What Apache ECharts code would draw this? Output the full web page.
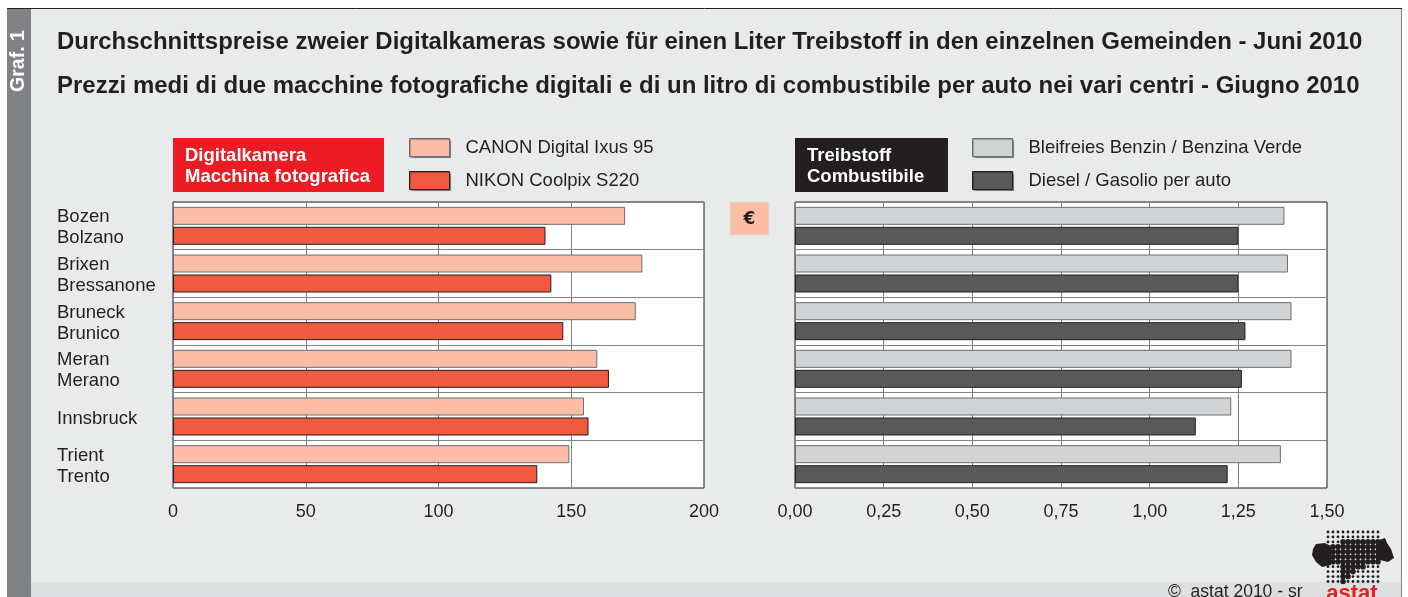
<!DOCTYPE html>
<html>
<head>
<meta charset="utf-8">
<title>Graf. 1</title>
<style>
  html, body { margin: 0; padding: 0; background: #fff; }
  #main { width: 1408px; height: 597px; }
</style>
<script src="https://cdn.jsdelivr.net/npm/echarts@6/dist/echarts.min.js"></script>
</head>
<body>
<div id="main"></div>
<script>
var cities = ['Bozen\nBolzano', 'Brixen\nBressanone', 'Bruneck\nBrunico', 'Meran\nMerano', 'Innsbruck', 'Trient\nTrento'];
var canon = [170.3, 176.8, 174.3, 159.8, 154.8, 149.3];
var nikon = [140.3, 142.5, 147, 164.2, 156.5, 137.2];
var benzin = [1.38, 1.39, 1.40, 1.40, 1.23, 1.37];
var diesel = [1.25, 1.25, 1.27, 1.26, 1.13, 1.22];

var font = '"Liberation Sans", Arial, sans-serif';
var textColor = '#231f20';

// astat logo: dot raster, dots get bigger inside the map shape
function logoDots() {
  // first/last big column per raster row, -1 = no big dots
  var bigFrom = [-1, -1, 3, 1, 0, 0, 0, 3, 3, 3, 3];
  var bigTo = [-1, -1, 10, 10, 10, 10, 10, 7, 5, 4, 3];
  var dots = [];
  for (var i = 0; i < 11; i++) {
    for (var j = 0; j < 11; j++) {
      var big = bigFrom[j] >= 0 && i >= bigFrom[j] && i <= bigTo[j];
      dots.push({
        type: 'circle', z: -5, silent: true,
        shape: { cx: 1328 + i * 5, cy: 532 + j * 4.95, r: big ? 2.8 : 1.4 },
        style: { fill: '#231f20' }
      });
    }
  }
  return dots;
}

function makeBar(name, values, color, border, xIdx) {
  return {
    name: name,
    type: 'bar',
    xAxisIndex: xIdx,
    yAxisIndex: xIdx,
    data: values,
    barWidth: 18,
    barGap: '11%',
    itemStyle: { color: color, borderColor: border, borderWidth: 1 },
    silent: true
  };
}

function makeLegend(names, left) {
  return {
    left: left, top: 138, orient: 'vertical', padding: 0,
    itemWidth: 40, itemHeight: 18, itemGap: 14, icon: 'rect',
    data: names,
    selectedMode: false,
    itemStyle: { borderWidth: 1, shadowColor: 'rgba(0,0,0,0.3)', shadowBlur: 1, shadowOffsetX: 1, shadowOffsetY: 1 },
    textStyle: { fontFamily: font, fontSize: 18.5, color: textColor, padding: [0, 0, 0, 11] }
  };
}

function makeX(idx, max, interval, fmt) {
  return {
    type: 'value', gridIndex: idx, min: 0, max: max, interval: interval, position: 'bottom',
    axisLine: { show: false }, axisTick: { show: false },
    axisLabel: { fontFamily: font, fontSize: 18, color: textColor, margin: 15, formatter: fmt, hideOverlap: false },
    splitLine: { show: true, lineStyle: { color: '#808285', width: 1 } }
  };
}

function makeY(idx, showLabel) {
  return {
    type: 'category', gridIndex: idx, data: cities, inverse: true,
    axisLine: { show: false }, axisTick: { show: false },
    axisLabel: {
      show: showLabel, align: 'left', margin: 116, interval: 0,
      // small empty first line pushes the names down a bit
      formatter: function (v) {
        return '{gap| }\n' + v.split('\n').map(function (s) { return '{n|' + s + '}'; }).join('\n');
      },
      rich: {
        gap: { fontSize: 1, lineHeight: 4, height: 4 },
        n: { fontFamily: font, fontSize: 18.5, color: textColor, lineHeight: 21 }
      }
    },
    splitLine: { show: true, interval: 0, lineStyle: { color: '#808285', width: 1 } }
  };
}

var chart = echarts.init(document.getElementById('main'), null, { renderer: 'canvas' });
chart.setOption({
  animation: false,
  backgroundColor: '#ffffff',
  title: [
    {
      text: 'Durchschnittspreise zweier Digitalkameras sowie für einen Liter Treibstoff in den einzelnen Gemeinden - Juni 2010',
      left: 57, top: 30, padding: 0,
      textStyle: { fontFamily: font, fontSize: 23.98, fontWeight: 'bold', color: textColor }
    },
    {
      text: 'Prezzi medi di due macchine fotografiche digitali e di un litro di combustibile per auto nei vari centri - Giugno 2010',
      left: 57, top: 74, padding: 0,
      textStyle: { fontFamily: font, fontSize: 23.98, fontWeight: 'bold', color: textColor }
    }
  ],
  legend: [
    makeLegend(['CANON Digital Ixus 95', 'NIKON Coolpix S220'], 409),
    makeLegend(['Bleifreies Benzin / Benzina Verde', 'Diesel / Gasolio per auto'], 972)
  ],
  grid: [
    { left: 173, top: 202, width: 531, height: 286, show: true, backgroundColor: '#ffffff', borderColor: '#231f20', borderWidth: 1 },
    { left: 795, top: 202, width: 532, height: 286, show: true, backgroundColor: '#ffffff', borderColor: '#231f20', borderWidth: 1 }
  ],
  xAxis: [
    makeX(0, 200, 50),
    makeX(1, 1.5, 0.25, function (v) { return v.toFixed(2).replace('.', ','); })
  ],
  yAxis: [makeY(0, true), makeY(1, false)],
  series: [
    makeBar('CANON Digital Ixus 95', canon, '#fbbda6', '#6d6e70', 0),
    makeBar('NIKON Coolpix S220', nikon, '#f15a40', '#231f20', 0),
    makeBar('Bleifreies Benzin / Benzina Verde', benzin, '#d1d3d4', '#6d6e70', 1),
    makeBar('Diesel / Gasolio per auto', diesel, '#58595b', '#231f20', 1)
  ],
  graphic: [
    // frame
    { type: 'rect', z: -10, silent: true, shape: { x: 7, y: 9, width: 1395, height: 588 }, style: { fill: '#e9ebeb' } },
    { type: 'rect', z: -9, silent: true, shape: { x: 31, y: 582, width: 1370, height: 15 }, style: { fill: '#dcdedf' } },
    { type: 'rect', z: -9, silent: true, shape: { x: 7, y: 9, width: 24, height: 588 }, style: { fill: '#808285' } },
    { type: 'line', z: -8, silent: true, shape: { x1: 7, y1: 8.5, x2: 1402, y2: 8.5 }, style: { stroke: '#231f20', lineWidth: 1 } },
    { type: 'line', z: -8, silent: true, shape: { x1: 1401.5, y1: 9, x2: 1401.5, y2: 597 }, style: { stroke: '#808285', lineWidth: 1 } },
    {
      type: 'text', z: 5, silent: true, x: 19, y: 61, rotation: Math.PI / 2,
      style: { text: 'Graf. 1', fill: '#ffffff', font: 'bold 19.5px ' + font, align: 'center', verticalAlign: 'middle' }
    },
    // header boxes
    { type: 'rect', z: -5, silent: true, shape: { x: 173, y: 138, width: 211, height: 54 }, style: { fill: '#ed1c24' } },
    {
      type: 'text', z: 5, silent: true, x: 185, y: 145,
      style: { text: 'Digitalkamera\nMacchina fotografica', fill: '#ffffff', font: 'bold 18.5px ' + font, lineHeight: 21 }
    },
    { type: 'rect', z: -5, silent: true, shape: { x: 795, y: 138, width: 153, height: 54 }, style: { fill: '#231f20' } },
    {
      type: 'text', z: 5, silent: true, x: 807, y: 145,
      style: { text: 'Treibstoff\nCombustibile', fill: '#ffffff', font: 'bold 18.5px ' + font, lineHeight: 21 }
    },
    // euro box
    { type: 'rect', z: -5, silent: true, shape: { x: 730, y: 202, width: 39, height: 33 }, style: { fill: '#fbbda6', stroke: '#dcdedf', lineWidth: 1 } },
    {
      type: 'text', z: 5, silent: true, x: 749.5, y: 220,
      style: { text: '€', fill: textColor, font: 'bold 17px "DejaVu Sans", sans-serif', align: 'center', verticalAlign: 'middle' }
    },
    // credit + logo
    {
      type: 'text', z: 5, silent: true, x: 1168, y: 592,
      style: { text: '©  astat 2010 - sr', fill: textColor, font: '17.5px ' + font, verticalAlign: 'middle' }
    },
    {
      type: 'polygon', z: -4, silent: true,
      shape: { points: [[1313, 549], [1316, 544], [1325, 543], [1331, 546], [1331, 565], [1322, 567], [1316, 562], [1312, 555]] },
      style: { fill: '#231f20' }
    },
    {
      type: 'polygon', z: -4, silent: true,
      shape: { points: [[1376, 541], [1385, 538], [1387, 543], [1391, 549], [1394, 558], [1388, 562], [1380, 560], [1376, 562]] },
      style: { fill: '#231f20' }
    },
    {
      type: 'text', z: 5, silent: true, x: 1352, y: 594,
      style: { text: 'astat', fill: '#ed1c24', font: 'bold 22px ' + font, align: 'center', verticalAlign: 'middle' }
    }
  ].concat(logoDots())
});
</script>
</body>
</html>
